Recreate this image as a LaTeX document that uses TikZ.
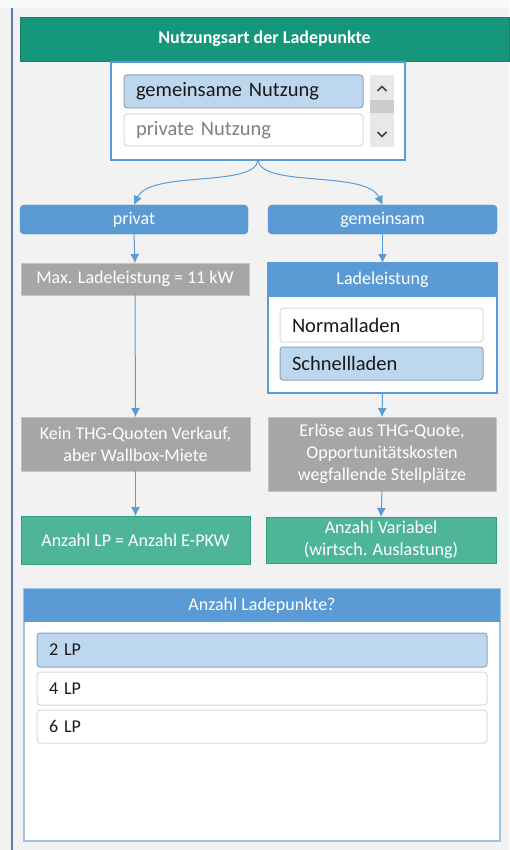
\documentclass[tikz,border=0pt]{standalone}
\usepackage{fontspec}
\setmainfont{Carlito}
\usetikzlibrary{arrows.meta}

\definecolor{pagebg}{HTML}{F2F2F2}
\definecolor{topbg}{HTML}{FAFAFA}
\definecolor{sideline}{HTML}{5A7DB0}
\definecolor{hdrgreen}{HTML}{16967A}
\definecolor{midblue}{HTML}{5B9BD5}
\definecolor{paleblue}{HTML}{9DC3E6}
\definecolor{selblue}{HTML}{BDD7EE}
\definecolor{selline}{HTML}{8EA3B7}
\definecolor{freeline}{HTML}{DADADA}
\definecolor{greyfill}{HTML}{A6A6A6}
\definecolor{greyline}{HTML}{C4C4C4}
\definecolor{resgreen}{HTML}{4FB598}
\definecolor{resline}{HTML}{2F9E80}
\definecolor{scrollbg}{HTML}{E8E8E8}
\definecolor{scrollthumb}{HTML}{CDCDCD}

\tikzset{
  box/.style={anchor=north west, inner sep=0pt, outer sep=0pt,
    font=\fontsize{18}{21}\selectfont},
  sz/.style 2 args={minimum width=#1, minimum height=#2},
  hdr/.style={fill=hdrgreen, draw=hdrgreen!85!black, text=white,
    font=\bfseries\fontsize{18}{21}\selectfont},
  panel/.style={fill=white, draw=midblue, line width=1.2pt},
  panelhdr/.style={fill=midblue, text=white},
  btn/.style={fill=midblue, draw=midblue!85!black, rounded corners=4pt, text=white},
  greybox/.style={fill=greyfill, draw=greyline, text=white, align=center,
    font=\fontsize{18}{22}\selectfont},
  resbox/.style={fill=resgreen, draw=resline, line width=1pt, text=white, align=center,
    font=\fontsize{18}{22}\selectfont},
  optrow/.style={text width=#1, align=left, inner xsep=12pt, rounded corners=3pt,
    line width=1pt},
  optsel/.style={fill=selblue, draw=selline, text=black!90},
  optfree/.style={fill=white, draw=freeline, text=black!90},
  flow/.style={draw=midblue, line width=1pt, -{Latex[length=9pt,width=9pt]}}
}

\begin{document}
\begin{tikzpicture}[x=1pt,y=-1pt]
\useasboundingbox (0,0) rectangle (509,850);
\fill[topbg] (0,0) rectangle (509,8);
\fill[pagebg] (0,8) rectangle (509,850);
\draw[sideline, line width=1.5pt] (12,8) -- (12,850);

%header
\node[box, hdr, sz={489pt}{44pt}] (title) at (20,17) {Nutzungsart der Ladepunkte};

%dropdown
\node[box, panel, sz={294pt}{98pt}] (dd) at (111,62) {};
\node[box, optrow=215pt, optsel, sz={239pt}{33pt}, font=\fontsize{20.5}{24}\selectfont] (optg) at (124,75) {gemeinsame Nutzung};
\node[box, optrow=215pt, optfree, sz={239pt}{32pt}, text=black!50, font=\fontsize{20.5}{24}\selectfont] (optp) at (124,114) {private Nutzung};
\node[box, fill=scrollbg, sz={24pt}{72pt}] (scroll) at (370,75) {};
\node[box, fill=scrollthumb, sz={24pt}{13pt}] (thumb) at (370,100) {};
\draw[black!75, line width=1.6pt] (377.5,91) -- (382,86.5) -- (386.5,91);
\draw[black!75, line width=1.6pt] (377.5,132) -- (382,136.5) -- (386.5,132);

%buttons
\node[box, btn, sz={228pt}{29pt}] (privat) at (20,205) {privat};
\node[box, btn, sz={229pt}{29pt}] (gem) at (268,205) {gemeinsam};
\draw[flow] (dd.south) .. controls +(-3,28) and +(16,-35) .. (privat.north);
\draw[flow] (dd.south) .. controls +(3,28) and +(-16,-35) .. (gem.north);

%left column
\node[box, greybox, sz={228pt}{32pt}] (maxl) at (21,263) {Max. Ladeleistung = 11 kW};
\node[box, greybox, sz={229pt}{54pt}] (kein) at (21,417) {Kein THG-Quoten Verkauf,\\aber Wallbox-Miete};
\node[box, resbox, sz={229pt}{48pt}] (anzl) at (21,516) {Anzahl LP = Anzahl E-PKW};

%right column
\node[box, panel, sz={229pt}{130pt}] (lpanel) at (268,263) {};
\node[box, panelhdr, sz={229pt}{34pt}] (lhdr) at (268,263) {Ladeleistung};
\node[box, optrow=179pt, optfree, sz={203pt}{34pt}, font=\fontsize{20.5}{24}\selectfont] (normal) at (280,308) {Normalladen};
\node[box, optrow=179pt, optsel, sz={203pt}{33pt}, font=\fontsize{20.5}{24}\selectfont] (schnell) at (280,347) {Schnellladen};
\node[box, greybox, sz={228pt}{74pt}] (erl) at (268,417) {Erlöse aus THG-Quote,\\Opportunitätskosten\\wegfallende Stellplätze};
\node[box, resbox, sz={230pt}{46pt}] (anzv) at (266,517) {Anzahl Variabel\\(wirtsch. Auslastung)};

\draw[flow] (privat.south) -- (maxl.north);
\draw[flow] (maxl.south) -- (kein.north);
\draw[flow] (kein.south) -- (anzl.north);
\draw[flow] (gem.south) -- (lpanel.north);
\draw[flow] (lpanel.south) -- (erl.north);
\draw[flow] (erl.south) -- (anzv.north);

%Anzahl Ladepunkte
\node[box, fill=white, draw=paleblue, line width=1.5pt, sz={476pt}{252pt}] (bpanel) at (24,589) {};
\node[box, panelhdr, sz={476pt}{33pt}] (bhdr) at (24,589) {Anzahl Ladepunkte?};
\node[box, optrow=426pt, optsel, sz={450pt}{34pt}] (lp2) at (37,633) {2 LP};
\node[box, optrow=426pt, optfree, sz={450pt}{33pt}] (lp4) at (37,672) {4 LP};
\node[box, optrow=426pt, optfree, sz={450pt}{33pt}] (lp6) at (37,710) {6 LP};
\end{tikzpicture}
\end{document}
